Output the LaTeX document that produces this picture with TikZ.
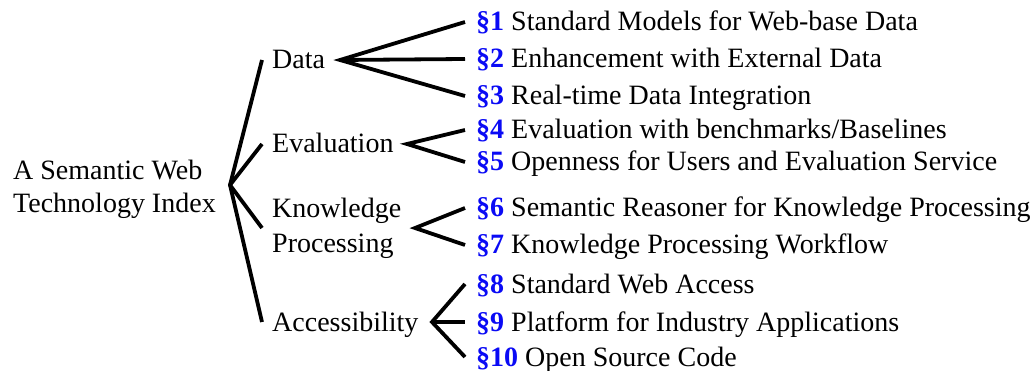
\documentclass[tikz,border=0pt]{standalone}
\usepackage{fontspec}
\setmainfont{Liberation Serif}
\definecolor{secblue}{RGB}{10,10,245}
\begin{document}
\begin{tikzpicture}[x=1pt,y=-1pt,
  every node/.style={font=\fontsize{28}{33}\selectfont},
  cat/.style={anchor=base west, inner xsep=10pt, inner ysep=0pt, text height=18pt, text depth=0pt},
  item/.style={anchor=base west, inner xsep=11pt, inner ysep=0pt, text height=18pt, text depth=0pt},
  conn/.style={line width=3.8pt, line join=miter}]
\useasboundingbox (0,0) rectangle (1035,371);
\newcommand{\sect}[1]{\textcolor{secblue}{\textbf{\S#1}}}
% root
\node[anchor=west, inner sep=0pt, align=left, font=\fontsize{28}{33}\selectfont] (root) at (13,189) {A Semantic Web\\Technology Index};
\coordinate (rv) at (230,185);
% categories
\node[cat] (data) at (262,69) {Data};
\node[cat] (eval) at (262,153) {Evaluation};
\node[anchor=west, inner xsep=10pt, inner ysep=0pt, align=left, font=\fontsize{28}{35}\selectfont] (know) at (262,228) {Knowledge\\Processing};
\node[cat] (acc) at (262,331) {Accessibility};
% fan vertices
\coordinate (dv) at (340,60);
\coordinate (ev) at (407,144);
\coordinate (kv) at (415,228);
\coordinate (av) at (432,322);
% items
\node[item] (s1) at (465,31) {\sect{1} Standard Models for Web-base Data};
\node[item] (s2) at (465,68) {\sect{2} Enhancement with External Data};
\node[item] (s3) at (465,105) {\sect{3} Real-time Data Integration};
\node[item] (s4) at (465,139) {\sect{4} Evaluation with benchmarks/Baselines};
\node[item] (s5) at (465,171) {\sect{5} Openness for Users and Evaluation Service};
\node[item] (s6) at (465,217) {\sect{6} Semantic Reasoner for Knowledge Processing};
\node[item] (s7) at (465,254) {\sect{7} Knowledge Processing Workflow};
\node[item] (s8) at (465,293) {\sect{8} Standard Web Access};
\node[item] (s9) at (465,331) {\sect{9} Platform for Industry Applications};
\node[item] (s10) at (465,366) {\sect{10} Open Source Code};
% connectors
\draw[conn] (data.west) -- (rv) -- (acc.west);
\draw[conn] (rv) -- (eval.west);
\draw[conn] (rv) -- (know.west);
\draw[conn] (s1.west) -- (dv) -- (s3.west);
\draw[conn] (dv) -- (s2.west);
\draw[conn] (s4.west) -- (ev) -- (s5.west);
\draw[conn] (s6.west) -- (kv) -- (s7.west);
\draw[conn] (s8.west) -- (av) -- (s10.west);
\draw[conn] (av) -- (s9.west);
\end{tikzpicture}
\end{document}
